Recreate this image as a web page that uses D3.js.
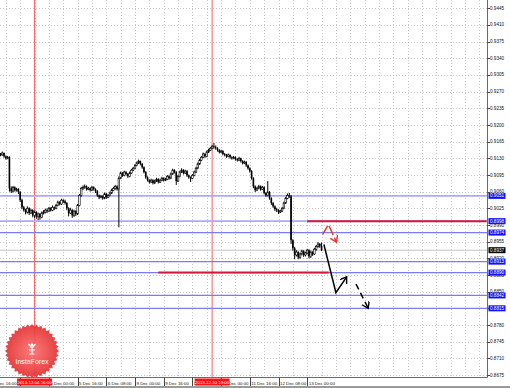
<!DOCTYPE html>
<html>
<head>
<meta charset="utf-8">
<script src="https://cdnjs.cloudflare.com/ajax/libs/d3/7.8.5/d3.min.js"></script>
<style>
  body { margin: 0; background: #fff; }
  svg { display: block; font-family: "Liberation Sans", Arial, sans-serif; }
</style>
</head>
<body>
<svg id="chart" width="510" height="388"></svg>
<script>
// H1 bars, bar 0 = 3 Dec 2013 16:00, weekend skipped (9 Dec 00:00 = bar 80)
var firstBar = 4
var firstOpen = 0.9136
var closes = [
  0.9139,0.9137,0.9141,0.9134,0.9130,0.9132,0.9067,0.9061,0.9069,0.9063,
  0.9065,0.9059,0.9042,0.9027,0.9021,0.9017,0.9025,0.9015,0.9021,0.9010,
  0.9017,0.9008,0.9013,0.9006,0.9015,0.9017,0.9021,0.9019,0.9025,0.9021,
  0.9027,0.9025,0.9031,0.9038,0.9034,0.9042,0.9040,0.9036,0.9025,0.9015,
  0.9021,0.9010,0.9019,0.9013,0.9031,0.9052,0.9067,0.9069,0.9071,0.9065,
  0.9067,0.9063,0.9069,0.9065,0.9061,0.9052,0.9048,0.9050,0.9046,0.9055,
  0.9048,0.9052,0.9057,0.9063,0.9067,0.9071,0.9065,0.9088,0.9099,0.9094,
  0.9101,0.9097,0.9092,0.9099,0.9105,0.9109,0.9115,0.9120,0.9124,0.9118,
  0.9111,0.9101,0.9090,0.9084,0.9080,0.9084,0.9078,0.9082,0.9086,0.9080,
  0.9084,0.9088,0.9084,0.9086,0.9092,0.9088,0.9097,0.9105,0.9101,0.9082,
  0.9092,0.9101,0.9105,0.9099,0.9103,0.9094,0.9090,0.9088,0.9094,0.9101,
  0.9109,0.9118,0.9126,0.9132,0.9139,0.9134,0.9143,0.9147,0.9151,0.9155,
  0.9153,0.9151,0.9147,0.9143,0.9145,0.9139,0.9137,0.9134,0.9137,0.9132,
  0.9130,0.9132,0.9128,0.9126,0.9130,0.9124,0.9120,0.9122,0.9115,0.9109,
  0.9103,0.9088,0.9071,0.9063,0.9067,0.9071,0.9065,0.9069,0.9057,0.9052,
  0.9059,0.9046,0.9036,0.9029,0.9023,0.9021,0.9017,0.9019,0.9025,0.9036,
  0.9046,0.9052,0.9050,0.8958,0.8941,0.8927,0.8933,0.8922,0.8929,0.8935,
  0.8927,0.8931,0.8937,0.8924,0.8933,0.8929,0.8939,0.8945,0.8950,0.8945,
  0.8937]
var highs = [
  0.9142,0.9141,0.9144,0.9142,0.9136,0.9135,0.9134,0.9071,0.9072,0.9071,
  0.9068,0.9067,0.9061,0.9045,0.9030,0.9024,0.9029,0.9027,0.9024,0.9023,
  0.9020,0.9019,0.9016,0.9015,0.9018,0.9021,0.9024,0.9025,0.9028,0.9027,
  0.9031,0.9029,0.9034,0.9041,0.9040,0.9045,0.9044,0.9043,0.9038,0.9027,
  0.9026,0.9023,0.9022,0.9021,0.9034,0.9055,0.9070,0.9073,0.9075,0.9073,
  0.9070,0.9069,0.9072,0.9071,0.9067,0.9063,0.9054,0.9053,0.9052,0.9058,
  0.9057,0.9055,0.9060,0.9066,0.9070,0.9074,0.9073,0.9092,0.9102,0.9101,
  0.9104,0.9103,0.9099,0.9102,0.9108,0.9112,0.9118,0.9123,0.9127,0.9125,
  0.9120,0.9113,0.9103,0.9092,0.9086,0.9087,0.9086,0.9085,0.9089,0.9088,
  0.9087,0.9091,0.9090,0.9089,0.9095,0.9094,0.9100,0.9108,0.9107,0.9103,
  0.9095,0.9104,0.9109,0.9107,0.9106,0.9105,0.9096,0.9092,0.9097,0.9104,
  0.9112,0.9121,0.9129,0.9135,0.9142,0.9141,0.9146,0.9150,0.9154,0.9158,
  0.9162,0.9157,0.9153,0.9149,0.9148,0.9147,0.9141,0.9139,0.9140,0.9138,
  0.9134,0.9135,0.9134,0.9130,0.9133,0.9131,0.9126,0.9125,0.9124,0.9117,
  0.9111,0.9105,0.9090,0.9073,0.9070,0.9074,0.9073,0.9072,0.9071,0.9059,
  0.9082,0.9061,0.9048,0.9038,0.9031,0.9026,0.9023,0.9022,0.9028,0.9039,
  0.9049,0.9056,0.9057,0.9053,0.8960,0.8944,0.8937,0.8935,0.8932,0.8938,
  0.8937,0.8934,0.8940,0.8939,0.8936,0.8935,0.8942,0.8948,0.8954,0.8952,
  0.8953]
var lows = [
  0.9134,0.9134,0.9135,0.9131,0.9127,0.9128,0.9060,0.9057,0.9058,0.9060,
  0.9060,0.9055,0.9038,0.9023,0.9018,0.9012,0.9014,0.9011,0.9013,0.9006,
  0.9005,0.9003,0.9000,0.9001,0.9004,0.9012,0.9014,0.9015,0.9017,0.9018,
  0.9019,0.9021,0.9023,0.9029,0.9031,0.9032,0.9036,0.9033,0.9021,0.9008,
  0.9013,0.9005,0.9007,0.9009,0.9011,0.9029,0.9049,0.9063,0.9066,0.9062,
  0.9063,0.9060,0.9061,0.9062,0.9057,0.9049,0.9044,0.9046,0.9043,0.9044,
  0.9045,0.9046,0.9050,0.9055,0.9061,0.9064,0.9062,0.8985,0.9086,0.9091,
  0.9092,0.9094,0.9089,0.9090,0.9097,0.9103,0.9107,0.9113,0.9118,0.9115,
  0.9108,0.9098,0.9087,0.9081,0.9077,0.9078,0.9075,0.9076,0.9080,0.9077,
  0.9078,0.9082,0.9081,0.9082,0.9084,0.9085,0.9086,0.9095,0.9098,0.9074,
  0.9080,0.9090,0.9099,0.9096,0.9097,0.9091,0.9087,0.9080,0.9086,0.9092,
  0.9099,0.9107,0.9116,0.9124,0.9130,0.9131,0.9132,0.9141,0.9145,0.9149,
  0.9150,0.9148,0.9144,0.9140,0.9141,0.9136,0.9134,0.9131,0.9132,0.9129,
  0.9127,0.9128,0.9125,0.9123,0.9124,0.9121,0.9117,0.9118,0.9112,0.9106,
  0.9100,0.9085,0.9067,0.9059,0.9061,0.9065,0.9062,0.9063,0.9054,0.9049,
  0.9050,0.9043,0.9032,0.9026,0.9019,0.9017,0.9013,0.9015,0.9017,0.9023,
  0.9034,0.9044,0.9047,0.8950,0.8936,0.8918,0.8924,0.8918,0.8919,0.8926,
  0.8923,0.8924,0.8928,0.8920,0.8921,0.8925,0.8927,0.8936,0.8942,0.8942,
  0.8935]

var priceTicks = [0.9445,0.9410,0.9375,0.9340,0.9305,0.9270,0.9235,0.9200,0.9165,0.9130,0.9095,0.9060,
                  0.9025,0.8990,0.8955,0.8920,0.8885,0.8850,0.8815,0.8780,0.8745,0.8710,0.8675]
var timeBars = [0,16,32,48,64,80,96,112,128,144,160,176]
var timeLabels = ["3 Dec 16:00","4 Dec 08:00","5 Dec 00:00","5 Dec 16:00","6 Dec 08:00","9 Dec 00:00",
                  "9 Dec 16:00","10 Dec 08:00","11 Dec 00:00","11 Dec 16:00","12 Dec 08:00","13 Dec 00:00"]

// support / resistance levels (blue, full width)
var levels = [0.9051, 0.8998, 0.8974, 0.8913, 0.8890, 0.8842, 0.8815]
// red segments
var redLevels = [0.8998, 0.8890]
var redFrom = [176, 93]
var redTo = [276, 188]
// vertical markers
var markBars = [24, 123]
var markLabels = ["2013.12.04 16:00", "2013.12.10 19:00"]
// forecast arrows
var redArrowBars = [184.6, 187.8, 192.3], redArrowPrices = [0.8970, 0.8991, 0.8954]
var blackArrowBars = [185.3, 192, 198], blackArrowPrices = [0.8949, 0.8848, 0.8881]
var dashArrowBars = [203.2, 210], dashArrowPrices = [0.8866, 0.8815]

var svg = d3.select("#chart")
var plotR = 487.5, plotB = 377.5

var x = d3.scaleLinear().domain([0, 276]).range([-8.5, 486.6])
var y = d3.scaleLinear().domain([0.8675, 0.9445]).range([375, 8.2])
var fmt = d3.format(".4f")
var snap = v => Math.round(v) + 0.5

svg.append("rect").attr("width", 510).attr("height", 388).attr("fill", "#fff")

var defs = svg.append("defs")
defs.append("clipPath").attr("id", "plot").append("rect").attr("width", plotR).attr("height", plotB)
;[["arrRed", "#ff2a2a"], ["arrBlack", "#000"]].forEach(m => {
  defs.append("marker").attr("id", m[0])
    .attr("markerUnits", "userSpaceOnUse").attr("markerWidth", 9).attr("markerHeight", 9)
    .attr("refX", 6).attr("refY", 4).attr("orient", "auto")
    .append("path").attr("d", "M0,0 L6,4 L0,8").attr("fill", "none")
    .attr("stroke", m[1]).attr("stroke-width", 1.4)
})

var plot = svg.append("g").attr("clip-path", "url(#plot)")

// grid
plot.selectAll(".hg").data(priceTicks).enter().append("line")
  .attr("x1", 0).attr("x2", plotR)
  .attr("y1", d => snap(y(d))).attr("y2", d => snap(y(d)))
  .attr("stroke", "#c8c8c8").attr("stroke-dasharray", "1,2")
plot.selectAll(".vg").data(d3.range(0, 277, 8)).enter().append("line")
  .attr("x1", d => snap(x(d))).attr("x2", d => snap(x(d)))
  .attr("y1", 0).attr("y2", plotB)
  .attr("stroke", "#c8c8c8").attr("stroke-dasharray", "1,2")

// vertical markers
plot.selectAll(".vm").data(markBars).enter().append("line")
  .attr("x1", d => x(d)).attr("x2", d => x(d))
  .attr("y1", 0).attr("y2", plotB)
  .attr("stroke", "#ff6060").attr("stroke-width", 1)

// levels
plot.selectAll(".lv").data(levels).enter().append("line")
  .attr("x1", 0).attr("x2", plotR)
  .attr("y1", d => y(d)).attr("y2", d => y(d))
  .attr("stroke", (d, i) => i < 2 ? "#a9a9ff" : "#7b7bf2")
  .attr("stroke-width", (d, i) => i < 2 ? 1.8 : 1.2)

var last = closes[closes.length - 1]
plot.append("line")
  .attr("x1", 0).attr("x2", plotR)
  .attr("y1", y(last)).attr("y2", y(last))
  .attr("stroke", "#c4c4c4").attr("stroke-width", 1)

plot.selectAll(".rl").data(redLevels).enter().append("line")
  .attr("x1", (d, i) => x(redFrom[i])).attr("x2", (d, i) => x(redTo[i]))
  .attr("y1", d => y(d)).attr("y2", d => y(d))
  .attr("stroke", "#d4173a").attr("stroke-width", 2)

// candles
var bars = closes.map((c, k) => ({
  i: firstBar + k, o: k ? closes[k - 1] : firstOpen, h: highs[k], l: lows[k], c: c
}))
var cg = plot.selectAll(".bar").data(bars).enter().append("g")
cg.append("line")
  .attr("x1", d => x(d.i)).attr("x2", d => x(d.i))
  .attr("y1", d => y(d.h)).attr("y2", d => y(d.l))
  .attr("stroke", "#000").attr("stroke-width", 1)
cg.append("rect")
  .attr("x", d => x(d.i) - 0.8).attr("width", 1.6)
  .attr("y", d => y(Math.max(d.o, d.c)))
  .attr("height", d => Math.max(0.8, Math.abs(y(d.o) - y(d.c))))
  .attr("fill", d => d.c >= d.o ? "#fff" : "#000")
  .attr("stroke", "#000").attr("stroke-width", d => d.c >= d.o ? 0.6 : 0)

// forecast arrows
var line = d3.line().x(d => x(d[0])).y(d => y(d[1]))
plot.append("path").datum(d3.zip(redArrowBars, redArrowPrices)).attr("d", line)
  .attr("fill", "none").attr("stroke", "#ff2a2a").attr("stroke-width", 1.4)
  .attr("stroke-dasharray", "10,3").attr("marker-end", "url(#arrRed)")
plot.append("path").datum(d3.zip(blackArrowBars, blackArrowPrices)).attr("d", line)
  .attr("fill", "none").attr("stroke", "#000").attr("stroke-width", 1.5)
  .attr("marker-end", "url(#arrBlack)")
plot.append("path").datum(d3.zip(dashArrowBars, dashArrowPrices)).attr("d", line)
  .attr("fill", "none").attr("stroke", "#000").attr("stroke-width", 1.5)
  .attr("stroke-dasharray", "6,4").attr("marker-end", "url(#arrBlack)")

// logo badge
var logo = svg.append("g").attr("transform", "translate(32,351)").attr("opacity", 0.92)
var grad = defs.append("radialGradient").attr("id", "badge")
grad.append("stop").attr("offset", "0%").attr("stop-color", "#ff7070")
grad.append("stop").attr("offset", "100%").attr("stop-color", "#e23030")
var star = d3.range(72).map(k => {
  var a = k / 72 * 2 * Math.PI, r = k % 2 ? 24.5 : 27
  return [Math.cos(a) * r, Math.sin(a) * r]
})
logo.append("path").attr("d", "M" + star.join("L") + "Z").attr("fill", "url(#badge)")
logo.append("path")
  .attr("d", "M-3.5,-7 L0,-3 L3.5,-7 M0,-3 L0,3 M-2.5,3 L2.5,3 M-3,-1 L3,-1")
  .attr("fill", "none").attr("stroke", "#fff").attr("stroke-width", 1.2)
logo.append("circle").attr("cx", 0).attr("cy", -6).attr("r", 1.4).attr("fill", "#fff")
logo.append("text").attr("x", 0).attr("y", 13).attr("text-anchor", "middle")
  .attr("font-size", 7).attr("fill", "#fff").text("InstaForex")

// frame
svg.append("line").attr("x1", plotR).attr("x2", plotR).attr("y1", 0).attr("y2", plotB)
  .attr("stroke", "#6a6a6a")
svg.append("line").attr("x1", 0).attr("x2", plotR).attr("y1", plotB).attr("y2", plotB)
  .attr("stroke", "#6a6a6a")
svg.append("rect").attr("x", 0).attr("y", 386).attr("width", 510).attr("height", 2).attr("fill", "#9a9a9a")

// price axis
var ya = svg.append("g")
ya.selectAll(".yt").data(priceTicks).enter().append("line")
  .attr("x1", plotR).attr("x2", plotR + 2.5)
  .attr("y1", d => snap(y(d))).attr("y2", d => snap(y(d)))
  .attr("stroke", "#444")
ya.selectAll(".yl").data(priceTicks).enter().append("text")
  .attr("x", 490).attr("y", d => y(d) + 1.6)
  .attr("font-size", 4.6).attr("fill", "#111").text(fmt)

var boxes = levels.map(v => ({ v: v, fill: "#1010ff" })).concat([{ v: last, fill: "#000" }])
var bg = ya.selectAll(".box").data(boxes).enter().append("g")
bg.append("rect").attr("x", 488.5).attr("width", 17).attr("y", d => y(d.v) - 3).attr("height", 6)
  .attr("fill", d => d.fill)
bg.append("text").attr("x", 490).attr("y", d => y(d.v) + 1.6)
  .attr("font-size", 4.6).attr("fill", "#fff").text(d => fmt(d.v))

// time axis
var xa = svg.append("g")
xa.selectAll(".xt").data(timeBars).enter().append("line")
  .attr("x1", d => snap(x(d))).attr("x2", d => snap(x(d)))
  .attr("y1", plotB).attr("y2", 386)
  .attr("stroke", "#444")
xa.selectAll(".xl").data(timeBars).enter().append("text")
  .attr("x", d => x(d) + 1.5).attr("y", 384.5)
  .attr("font-size", 4.4).attr("fill", "#111")
  .text((d, i) => timeLabels[i])

var mg = xa.selectAll(".mk").data(markBars).enter().append("g")
mg.append("rect").attr("x", d => x(d) - 17.5).attr("width", 35).attr("y", 378.5).attr("height", 7)
  .attr("fill", "#ff1010")
mg.append("text").attr("x", d => x(d)).attr("y", 384.2).attr("text-anchor", "middle")
  .attr("font-size", 4.4).attr("fill", "#fff").text((d, i) => markLabels[i])
</script>
</body>
</html>
